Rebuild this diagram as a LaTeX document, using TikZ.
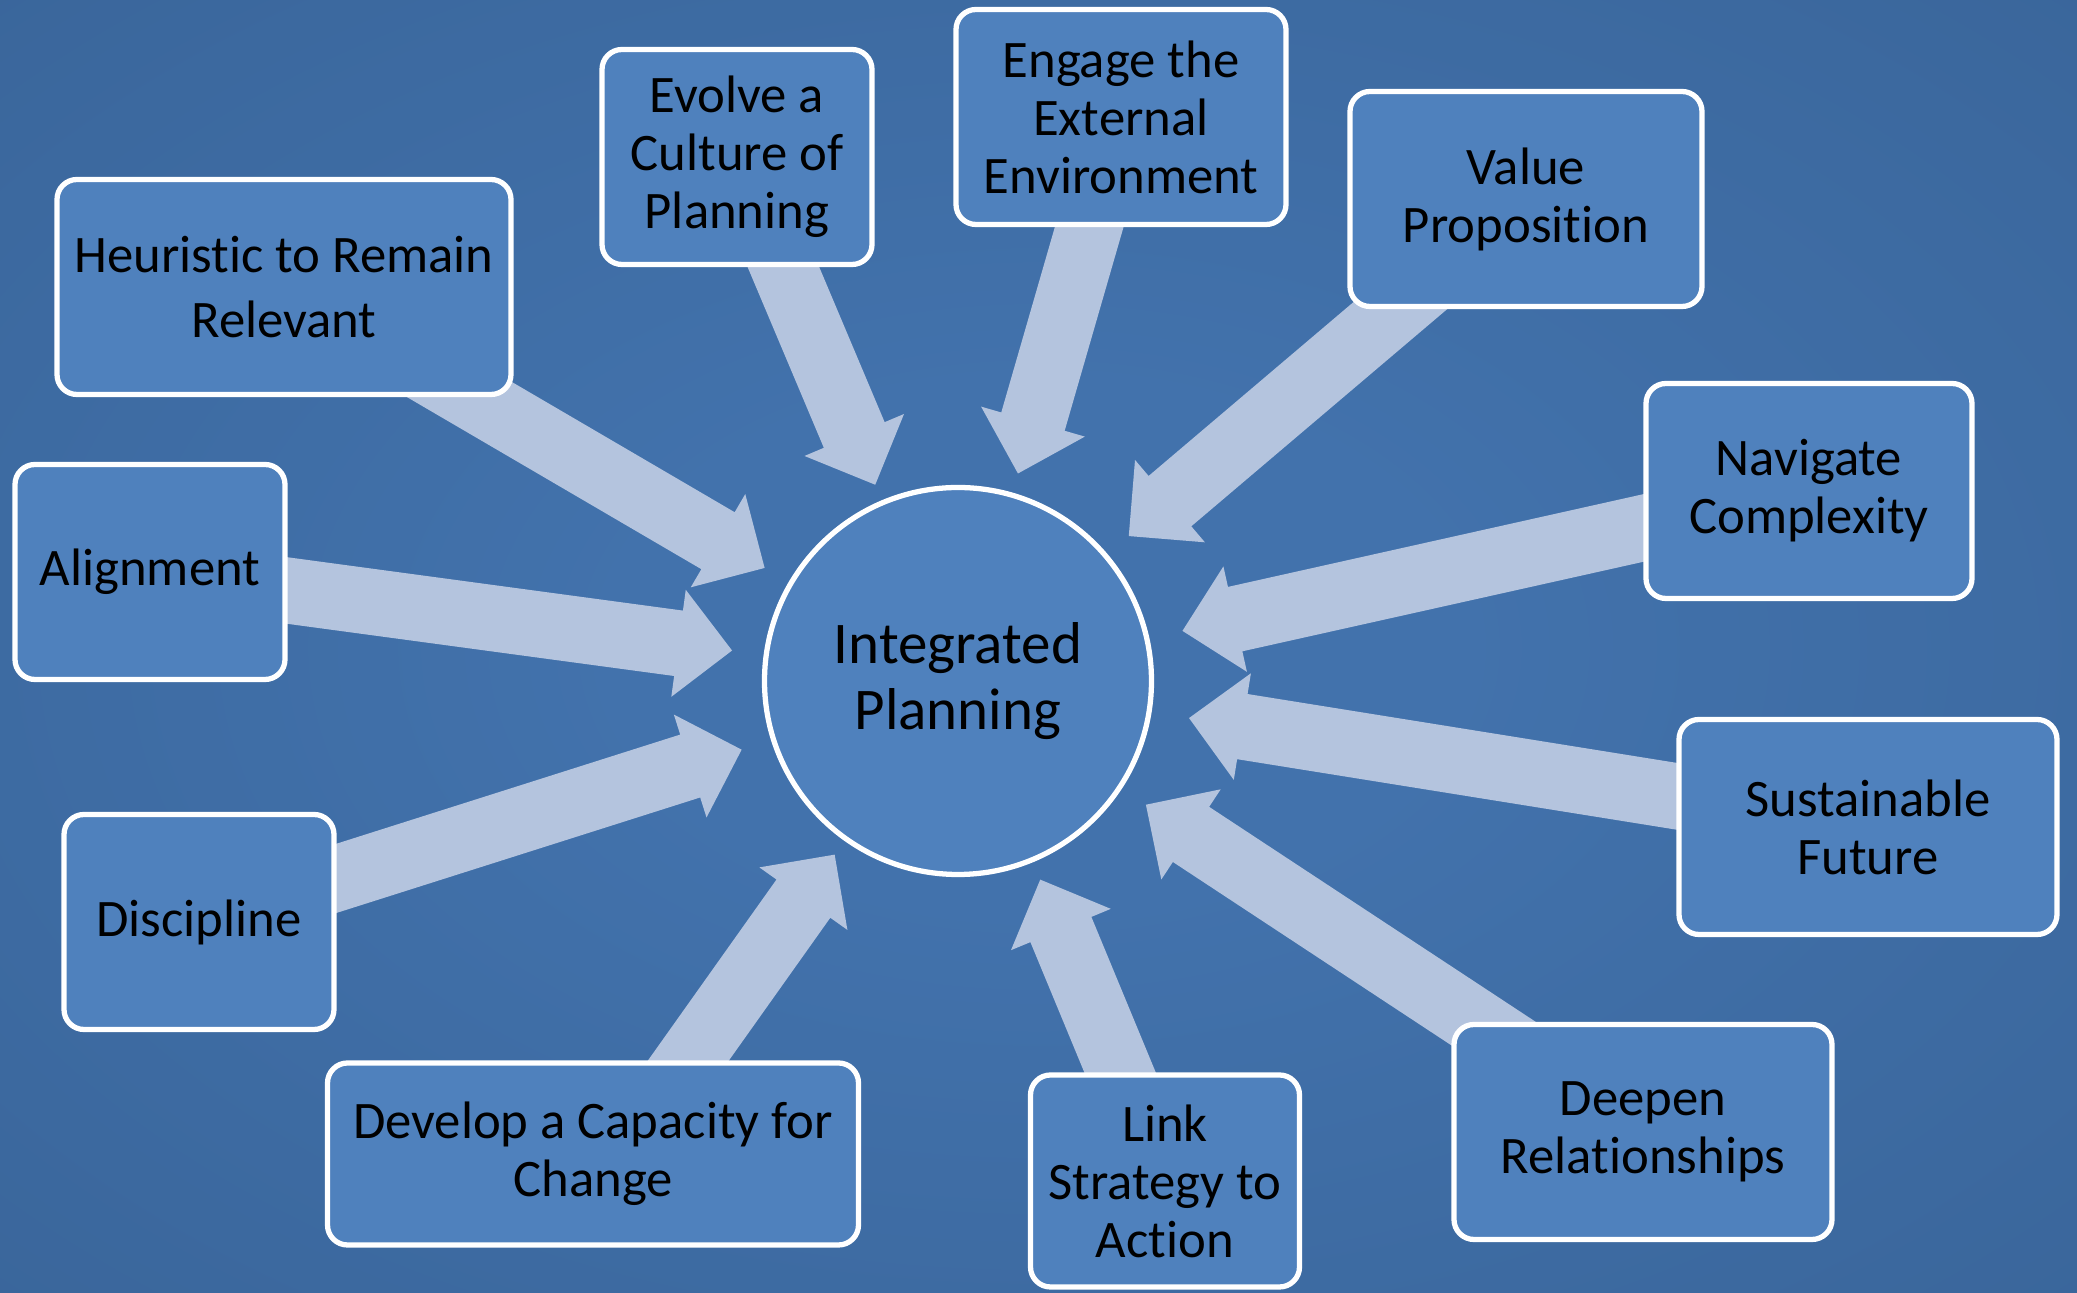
\documentclass[tikz,border=0pt]{standalone}
\usepackage{fontspec}
\setmainfont{Carlito}[Ligatures={NoCommon,NoRequired}]
\usetikzlibrary{calc}

\definecolor{bginner}{RGB}{66,114,172}
\definecolor{bgouter}{RGB}{50,90,138}
\definecolor{boxblue}{RGB}{79,129,189}
\definecolor{arrowgrey}{RGB}{180,196,222}

\pgfdeclareradialshading{bgshade}{\pgfpoint{0bp}{0bp}}{%
  color(0bp)=(bginner); color(10bp)=(bginner); color(62bp)=(bgouter); color(80bp)=(bgouter)}

\pgfdeclarelayer{bg}
\pgfdeclarelayer{arrows}
\pgfsetlayers{bg,arrows,main}

\tikzset{
  box/.style={draw=white, line width=1.5pt, fill=boxblue, rounded corners=0.2cm,
    minimum height=2.15cm, align=center, inner sep=2pt,
    font=\fontsize{15}{16.5}\selectfont},
  hub/.style={circle, draw=white, line width=1.5pt, fill=boxblue, minimum size=3.87cm,
    align=center, font=\fontsize{16.8}{19}\selectfont},
  bigarrow/.style={fill=arrowgrey}
}

% block arrow from #1 to #2, tip at distance #3 from the centre of #2
\newcommand{\blockarrow}[3]{
  \coordinate (tip) at ($(#2.center)!#3!(#1.center)$);
  \coordinate (hb) at ($(tip)!0.54cm!(#1.center)$);
  \fill[bigarrow] ($(#1.center)!0.33cm!90:(tip)$) -- ($(hb)!0.33cm!90:(tip)$)
    -- ($(hb)!0.54cm!90:(tip)$) -- (tip) -- ($(hb)!0.54cm!-90:(tip)$)
    -- ($(hb)!0.33cm!-90:(tip)$) -- ($(#1.center)!0.33cm!-90:(tip)$) -- cycle;
}

\begin{document}
\begin{tikzpicture}
        \useasboundingbox (0,0) rectangle (20.77,12.93);
        \begin{pgfonlayer}{bg}
            \shade[shading=bgshade] (0,0) rectangle (20.77,12.93);
        \end{pgfonlayer}

        %%%%%%%% Blocchi %%%%%%%%%
        \node[hub] (plan) at (9.58,6.12) {Integrated\\Planning};

        \node[box,minimum width=4.54cm,font=\fontsize{15}{18.4}\selectfont] (heur) at (2.84,10.06) {Heuristic to Remain\\Relevant};
        \node[box,minimum width=2.70cm] (evolve) at (7.37,11.36) {Evolve a\\Culture of\\Planning};
        \node[box,minimum width=3.30cm] (engage) at (11.21,11.76) {Engage the\\External\\Environment};
        \node[box,minimum width=3.52cm] (value) at (15.26,10.94) {Value\\Proposition};
        \node[box,minimum width=3.26cm] (navig) at (18.09,8.02) {Navigate\\Complexity};
        \node[box,minimum width=3.78cm] (sustain) at (18.68,4.66) {Sustainable\\Future};
        \node[box,minimum width=3.78cm] (deepen) at (16.43,1.61) {Deepen\\Relationships};
        \node[box,minimum width=2.69cm,minimum height=2.12cm] (link) at (11.65,1.12) {Link\\Strategy to\\Action};
        \node[box,minimum width=5.31cm,minimum height=1.82cm] (dev) at (5.93,1.39) {Develop a Capacity for\\Change};
        \node[box,minimum width=2.70cm] (disc) at (1.99,3.71) {Discipline};
        \node[box,minimum width=2.70cm] (align) at (1.50,7.21) {Alignment};

        %%%%%%%% Frecce %%%%%%%%%
        \coordinate (devstart) at ($(dev.center)+(0.29,0)$);
        \begin{pgfonlayer}{arrows}
            \foreach \from/\gap in {heur/2.24cm,evolve/2.13cm,engage/2.16cm,value/2.24cm,
                navig/2.30cm,sustain/2.34cm,deepen/2.25cm,link/2.15cm,devstart/2.13cm,
                disc/2.27cm,align/2.28cm}
                {\blockarrow{\from}{plan}{\gap}}
        \end{pgfonlayer}
\end{tikzpicture}
\end{document}
